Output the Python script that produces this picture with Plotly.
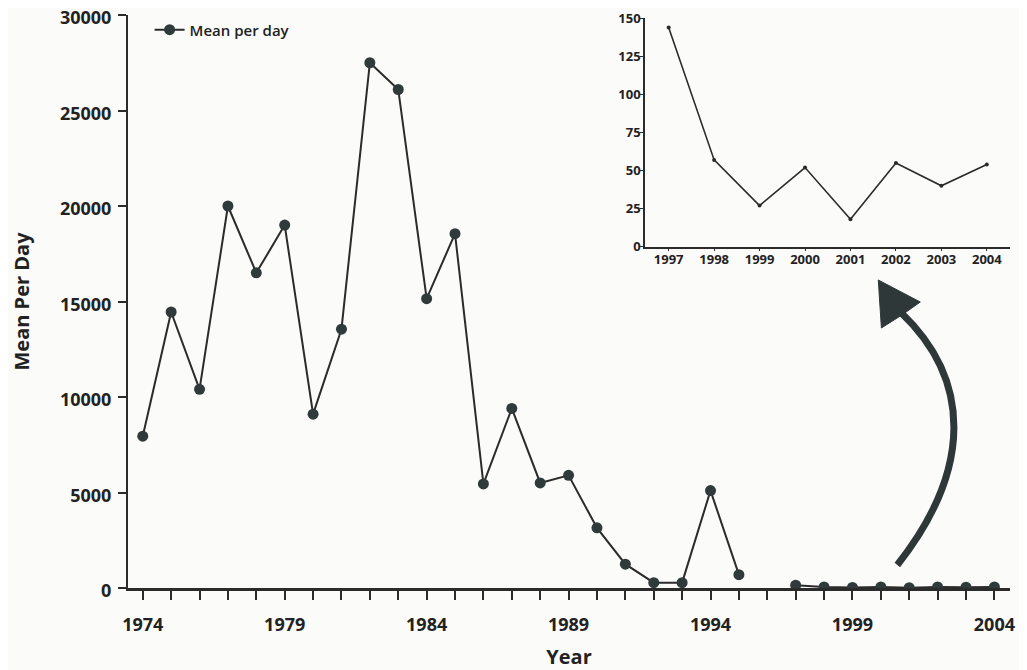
import plotly.graph_objects as go

# ---- data ----
years = list(range(1974, 2005))
mean_per_day = [7950, 14450, 10400, 20000, 16500, 19000, 9100, 13550, 27500, 26100,
                15150, 18550, 5450, 9400, 5500, 5900, 3150, 1250, 280, 280,
                5100, 700, None, 144, 57, 27, 52, 18, 55, 40, 54]

inset_years = list(range(1997, 2005))
inset_values = [144, 57, 27, 52, 18, 55, 40, 54]

main_y_ticks = [0, 5000, 10000, 15000, 20000, 25000, 30000]
main_x_labels = {1974: "1974", 1979: "1979", 1984: "1984", 1989: "1989",
                 1994: "1994", 1999: "1999", 2004: "2004"}
inset_y_ticks = [0, 25, 50, 75, 100, 125, 150]

# ---- style ----
INK = "#2b2b2b"
MARK = "#2f3a3a"
BG = "#fbfbfa"
FONT = "Open Sans"

fig = go.Figure()

fig.add_trace(go.Scatter(
    x=years, y=mean_per_day, mode="lines+markers", name="Mean per day",
    line=dict(color=INK, width=2),
    marker=dict(size=11, color=MARK),
    connectgaps=False, xaxis="x", yaxis="y", showlegend=True,
))

fig.add_trace(go.Scatter(
    x=inset_years, y=inset_values, mode="lines+markers", name="inset",
    line=dict(color=INK, width=1.6),
    marker=dict(size=4, color=INK),
    xaxis="x2", yaxis="y2", showlegend=False,
))

# curved arrow (annotation shape, in main-axis coordinates)
arrow_color = "#2e3838"
fig.add_shape(type="path", xref="x", yref="y",
              path="M 2000.58 1204 C 2003.22 6178, 2003.22 10890, 2000.69 14450",
              line=dict(color=arrow_color, width=7))
fig.add_shape(type="path", xref="x", yref="y",
              path="M 1999.91 16126 L 2000.02 13613 L 2000.75 14300 L 2001.39 14974 Z",
              fillcolor=arrow_color, line=dict(color=arrow_color, width=1))

tick_font = dict(family=FONT, size=18, color="#222", weight=700)
small_font = dict(family=FONT, size=13, color="#222", weight=700)
title_font = dict(family=FONT, size=20, color="#222", weight=700)

# page body has an 8px margin, so the figure is sized to the visible area
fig.update_layout(
    width=1019, height=662,
    margin=dict(l=120, r=17, t=7, b=82, autoexpand=False),
    paper_bgcolor=BG, plot_bgcolor="rgba(0,0,0,0)",
    showlegend=True,
    legend=dict(x=0.0245, y=0.974, xanchor="left", yanchor="middle",
                bgcolor="rgba(0,0,0,0)", borderwidth=0,
                font=dict(family=FONT, size=15, color="#222", weight=600)),
    xaxis=dict(
        domain=[0, 1], range=[1973.48, 2004.55], automargin=False,
        tickvals=years, ticktext=[main_x_labels.get(y, "") for y in years],
        ticks="outside", ticklen=9, tickwidth=2, tickcolor=INK,
        showline=True, linecolor=INK, linewidth=2.5,
        showgrid=False, zeroline=False, ticklabeloverflow="allow",
        tickfont=tick_font, ticklabelstandoff=10,
        title=dict(text="Year", font=title_font, standoff=17),
    ),
    yaxis=dict(
        domain=[0, 1], range=[0, 30000], automargin=False,
        tickvals=main_y_ticks, tickformat="d",
        ticks="outside", ticklen=8, tickwidth=2, tickcolor=INK,
        showline=True, linecolor=INK, linewidth=2,
        showgrid=False, zeroline=False, ticklabeloverflow="allow",
        tickfont=tick_font, ticklabelstandoff=3, ticklabelshift=3,
        title=dict(text="Mean Per Day", font=title_font, standoff=26),
    ),
    xaxis2=dict(
        domain=[0.5862, 1.0], anchor="y2", range=[1996.48, 2004.51], automargin=False,
        tickvals=inset_years, ticks="outside", ticklen=3, tickwidth=1, tickcolor=INK,
        showline=True, linecolor=INK, linewidth=1.5, ticklabeloverflow="allow",
        showgrid=False, zeroline=False, tickfont=small_font, ticklabelstandoff=-3,
    ),
    yaxis2=dict(
        domain=[0.5956, 0.9942], anchor="x2", range=[0, 150], automargin=False,
        tickvals=inset_y_ticks, ticks="outside", ticklen=3, tickwidth=1, tickcolor=INK,
        showline=True, linecolor=INK, linewidth=1.5, ticklabeloverflow="allow",
        showgrid=False, zeroline=False, tickfont=small_font, ticklabelstandoff=-3,
    ),
)

fig.write_html("out.html")
